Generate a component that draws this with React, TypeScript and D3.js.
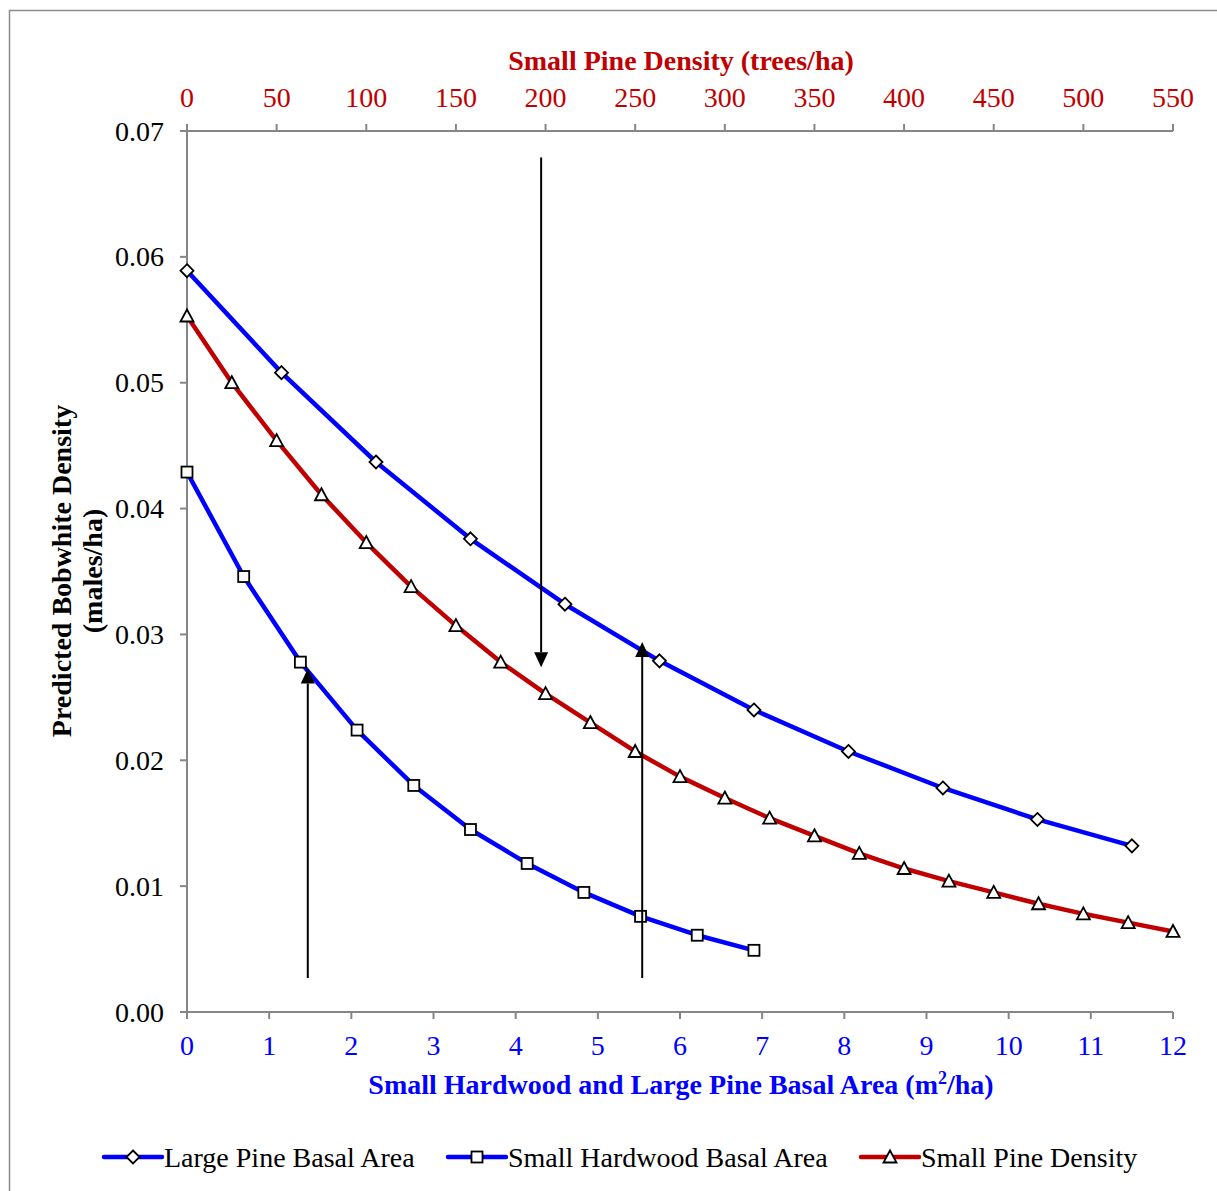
import { useEffect } from 'react'
import * as d3 from 'd3'

// bottom axis (m2/ha), left axis (males/ha)
const largePineBA = [0, 1.15, 2.3, 3.45, 4.6, 5.75, 6.9, 8.05, 9.2, 10.35, 11.5]
const largePineDens = [0.0589, 0.0508, 0.0437, 0.0376, 0.0324, 0.0279, 0.0240, 0.0207, 0.0178, 0.0153, 0.0132]

const smallHwBA = [0, 0.69, 1.38, 2.07, 2.76, 3.45, 4.14, 4.83, 5.52, 6.21, 6.9]
const smallHwDens = [0.0429, 0.0346, 0.0278, 0.0224, 0.0180, 0.0145, 0.0118, 0.0095, 0.0076, 0.0061, 0.0049]

// top axis (trees/ha)
const smallPineTrees = [0, 25, 50, 75, 100, 125, 150, 175, 200, 225, 250, 275, 300, 325, 350, 375, 400, 425, 450, 475, 500, 525, 550]
const smallPineDens = [0.0553, 0.0500, 0.0454, 0.0411, 0.0373, 0.0338, 0.0307, 0.0278, 0.0253, 0.0230, 0.0207, 0.0187, 0.0170, 0.0154, 0.0140, 0.0126, 0.0114, 0.0104, 0.0095, 0.0086, 0.0078, 0.0071, 0.0064]

const bottomTicks = [0, 1, 2, 3, 4, 5, 6, 7, 8, 9, 10, 11, 12]
const topTicks = [0, 50, 100, 150, 200, 250, 300, 350, 400, 450, 500, 550]
const leftTicks = [0, 0.01, 0.02, 0.03, 0.04, 0.05, 0.06, 0.07]

// arrows: [x on bottom axis, from y, to y]
const arrows = [
  [4.31, 0.0679, 0.0274],
  [1.47, 0.0027, 0.0273],
  [5.54, 0.0027, 0.0294],
]

const BLUE = '#0000FF'
const RED = '#C00000'
const AXIS = '#868686'
const FONT = '"Liberation Serif", "Times New Roman", serif'
const FS = 28

const diamond = (x: number, y: number, key: any) => (
  <path key={key} d={`M${x},${y - 6.5}L${x + 6.5},${y}L${x},${y + 6.5}L${x - 6.5},${y}Z`}
    fill="#fff" stroke="#000" strokeWidth={1.8} />
)
const square = (x: number, y: number, key: any) => (
  <rect key={key} x={x - 5.5} y={y - 5.5} width={11} height={11} fill="#fff" stroke="#000" strokeWidth={1.8} />
)
const triangle = (x: number, y: number, key: any) => (
  <path key={key} d={`M${x},${y - 6.5}L${x + 6.5},${y + 5.5}L${x - 6.5},${y + 5.5}Z`}
    fill="#fff" stroke="#000" strokeWidth={1.8} />
)

export default function App() {
  useEffect(() => { document.body.style.margin = '0' }, [])

  const x = d3.scaleLinear().domain([0, 12]).range([187, 1173])
  const xTop = d3.scaleLinear().domain([0, 550]).range([187, 1173])
  const y = d3.scaleLinear().domain([0, 0.07]).range([1012, 131])

  const line = d3.line<[number, number]>().x(d => d[0]).y(d => d[1])
  const lp = largePineBA.map((v, i) => [x(v), y(largePineDens[i])] as [number, number])
  const hw = smallHwBA.map((v, i) => [x(v), y(smallHwDens[i])] as [number, number])
  const sp = smallPineTrees.map((v, i) => [xTop(v), y(smallPineDens[i])] as [number, number])

  const legend = [
    { x0: 104, label: 'Large Pine Basal Area', color: BLUE, marker: diamond },
    { x0: 448, label: 'Small Hardwood Basal Area', color: BLUE, marker: square },
    { x0: 861, label: 'Small Pine Density', color: RED, marker: triangle },
  ]

  return (
    <svg width={1217} height={1191} style={{ display: 'block', fontFamily: FONT }}>
      <rect x={0} y={0} width={1217} height={1191} fill="#fff" />
      <rect x={9.5} y={10.5} width={1215} height={1190} fill="none" stroke="#8c8c8c" strokeWidth={1.5} />

      {/* axes */}
      <g stroke={AXIS} strokeWidth={2} fill="none">
        <line x1={187} x2={187} y1={131} y2={1012} />
        <line x1={180} x2={1173} y1={1012} y2={1012} />
        <line x1={187} x2={1173} y1={131} y2={131} />
        {leftTicks.map(t => <line key={t} x1={180} x2={187} y1={y(t)} y2={y(t)} />)}
        {bottomTicks.map(t => <line key={t} x1={x(t)} x2={x(t)} y1={1012} y2={1019} />)}
        {topTicks.map(t => <line key={t} x1={xTop(t)} x2={xTop(t)} y1={124} y2={131} />)}
        <line x1={1173} x2={1173} y1={124} y2={131} />
      </g>

      <g fontSize={FS} fill="#000" textAnchor="end">
        {leftTicks.map(t => (
          <text key={t} x={164} y={y(t)} dy="0.34em">{d3.format('.2f')(t)}</text>
        ))}
      </g>
      <g fontSize={FS} fill={BLUE} textAnchor="middle">
        {bottomTicks.map(t => <text key={t} x={x(t)} y={1055}>{t}</text>)}
      </g>
      <g fontSize={FS} fill={RED} textAnchor="middle">
        {topTicks.map(t => <text key={t} x={xTop(t)} y={107}>{t}</text>)}
      </g>

      <text x={681} y={70} textAnchor="middle" fontSize={FS} fontWeight="bold" fill={RED}>
        Small Pine Density (trees/ha)
      </text>
      <text x={681} y={1094} textAnchor="middle" fontSize={FS} fontWeight="bold" fill={BLUE}>
        Small Hardwood and Large Pine Basal Area (m<tspan baselineShift="super" fontSize={18}>2</tspan>/ha)
      </text>
      <g transform="translate(71,571) rotate(-90)" fontSize={FS} fontWeight="bold" textAnchor="middle" fill="#000">
        <text x={0} y={0}>Predicted Bobwhite Density</text>
        <text x={0} y={31}>(males/ha)</text>
      </g>

      {/* series */}
      <path d={line(lp) ?? ''} fill="none" stroke={BLUE} strokeWidth={4.5} strokeLinejoin="round" />
      <path d={line(hw) ?? ''} fill="none" stroke={BLUE} strokeWidth={4.5} strokeLinejoin="round" />
      <path d={line(sp) ?? ''} fill="none" stroke={RED} strokeWidth={4.5} strokeLinejoin="round" />
      {lp.map((p, i) => diamond(p[0], p[1], 'd' + i))}
      {hw.map((p, i) => square(p[0], p[1], 's' + i))}
      {sp.map((p, i) => triangle(p[0], p[1], 't' + i))}

      {/* arrows */}
      {arrows.map(([ax, y0, y1], i) => {
        const px = x(ax)
        const py0 = y(y0)
        const py1 = y(y1)
        const dir = py1 > py0 ? 1 : -1
        const base = py1 - dir * 15
        return (
          <g key={i}>
            <line x1={px} x2={px} y1={py0} y2={base} stroke="#000" strokeWidth={2} />
            <path d={`M${px},${py1}L${px + 7},${base}L${px - 7},${base}Z`} fill="#000" />
          </g>
        )
      })}

      {/* legend */}
      {legend.map((l, i) => (
        <g key={i}>
          <line x1={l.x0} x2={l.x0 + 58} y1={1157} y2={1157} stroke={l.color} strokeWidth={4.5} strokeLinecap="round" />
          {l.marker(l.x0 + 29, 1157, 'm')}
          <text x={l.x0 + 60} y={1157} dy="0.34em" fontSize={FS} fill="#000">{l.label}</text>
        </g>
      ))}
    </svg>
  )
}
